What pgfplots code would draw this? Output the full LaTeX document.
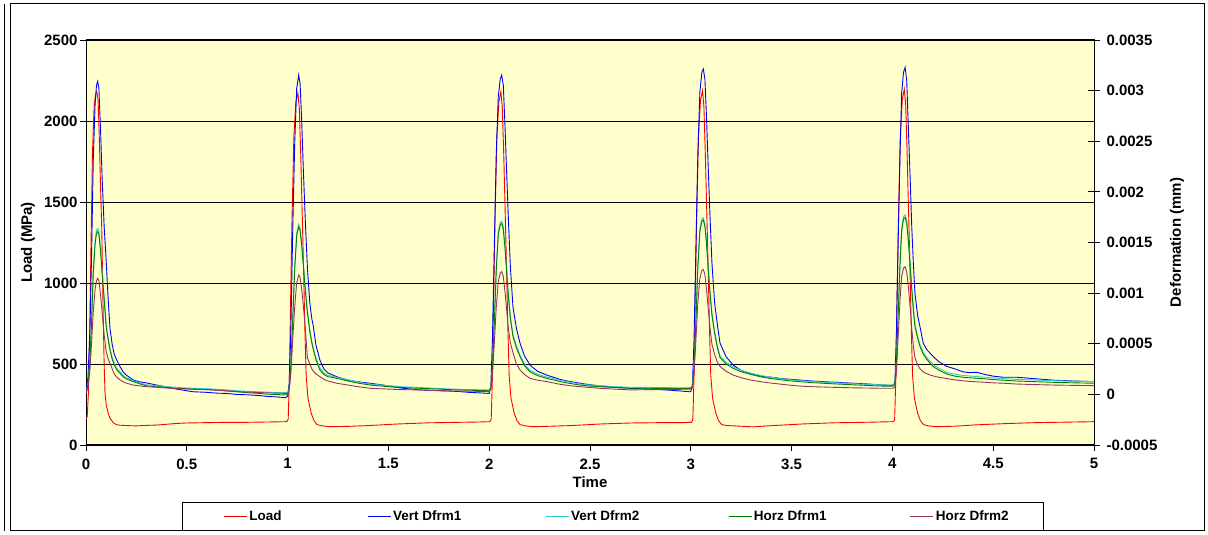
\documentclass[border=0pt]{standalone}
\usepackage{pgfplots}
\pgfplotsset{compat=1.18}
\usepackage{pgfplotstable}
\usepackage{fontspec}
\setmainfont{Liberation Sans}
\definecolor{bgyellow}{RGB}{255,255,204}
\definecolor{vdtwo}{RGB}{51,204,204}
\definecolor{hdone}{RGB}{0,128,0}
\definecolor{hdtwo}{RGB}{153,51,102}
\newcommand{\chartfont}{\fontsize{15}{17}\selectfont\bfseries}
\newcommand{\legfont}{\fontsize{13.5}{16}\selectfont\bfseries}
\pgfplotsset{legend image code/.code={\draw[#1] (0pt,0pt) -- (23pt,0pt);}}

\pgfplotstableread{
t L
0.000 160
0.006 175
0.012 320
0.018 650
0.025 1250
0.032 1800
0.040 2080
0.047 2160
0.053 2181
0.060 2130
0.066 1900
0.072 1600
0.078 1347
0.084 900
0.090 500
0.094 330
0.100 250
0.110 195
0.119 166
0.135 138
0.150 126
0.169 122
0.200 120
0.250 118
0.300 121
0.350 123
0.400 128
0.450 133
0.500 136
0.600 138
0.700 140
0.800 140
0.900 142
0.996 144
1.003 159
1.009 420
1.015 900
1.022 1400
1.031 1900
1.041 2120
1.051 2171
1.058 2080
1.065 1800
1.073 1400
1.079 1100
1.085 750
1.092 430
1.101 290
1.117 196
1.131 150
1.146 126
1.171 118
1.211 113
1.301 115
1.401 120
1.551 130
1.701 137
1.851 140
1.950 142
2.003 144
2.010 159
2.016 420
2.022 900
2.029 1400
2.038 1900
2.048 2120
2.058 2181
2.065 2080
2.072 1800
2.080 1400
2.086 1100
2.092 750
2.099 430
2.108 290
2.124 196
2.138 150
2.153 126
2.178 118
2.218 113
2.308 116
2.408 120
2.558 130
2.708 136
2.858 138
2.950 138
3.003 140
3.010 155
3.016 420
3.022 900
3.029 1400
3.038 1900
3.048 2125
3.058 2187
3.065 2090
3.072 1800
3.080 1400
3.086 1100
3.092 750
3.099 430
3.108 290
3.124 196
3.138 150
3.153 126
3.178 120
3.218 118
3.308 112
3.408 120
3.558 130
3.708 137
3.858 140
4.004 144
4.011 154
4.017 420
4.023 900
4.030 1400
4.039 1900
4.049 2130
4.059 2196
4.066 2100
4.073 1800
4.081 1400
4.087 1100
4.093 750
4.100 430
4.109 290
4.125 196
4.139 150
4.154 126
4.179 118
4.219 113
4.309 116
4.409 124
4.559 132
4.709 138
4.859 141
5.000 144
}\loadtab

\pgfplotstableread{
t v1 v2 h1 h2
0.000 12e-6 15e-6 9e-6 9e-6
0.010 172e-6 100e-6 92e-6 60e-6
0.020 668e-6 364e-6 348e-6 252e-6
0.028 1420e-6 756e-6 732e-6 524e-6
0.036 2316e-6 1220e-6 1196e-6 812e-6
0.045 2860e-6 1513e-6 1484e-6 1036e-6
0.052 3052e-6 1620e-6 1588e-6 1124e-6
0.058 3092e-6 1639e-6 1607e-6 1146e-6
0.064 3020e-6 1609e-6 1580e-6 1124e-6
0.072 2620e-6 1444e-6 1420e-6 988e-6
0.080 2140e-6 1220e-6 1196e-6 812e-6
0.090 1660e-6 956e-6 940e-6 588e-6
0.100 1324e-6 692e-6 668e-6 428e-6
0.110 940e-6 556e-6 540e-6 348e-6
0.119 652e-6 452e-6 438e-6 308e-6
0.130 492e-6 364e-6 348e-6 252e-6
0.140 396e-6 308e-6 292e-6 204e-6
0.152 340e-6 258e-6 244e-6 172e-6
0.169 273e-6 223e-6 207e-6 142e-6
0.185 220e-6 188e-6 172e-6 124e-6
0.200 191e-6 164e-6 153e-6 111e-6
0.234 142e-6 134e-6 126e-6 92e-6
0.265 124e-6 113e-6 105e-6 84e-6
0.300 113e-6 95e-6 84e-6 76e-6
0.350 92e-6 86e-6 76e-6 70e-6
0.400 73e-6 76e-6 68e-6 63e-6
0.450 52e-6 70e-6 60e-6 57e-6
0.500 36e-6 63e-6 55e-6 54e-6
0.530 26e-6 60e-6 52e-6 50e-6
0.600 20e-6 57e-6 47e-6 47e-6
0.650 12e-6 50e-6 41e-6 41e-6
0.700 9e-6 44e-6 33e-6 36e-6
0.750 -1e-6 36e-6 25e-6 28e-6
0.800 -4e-6 30e-6 17e-6 23e-6
0.860 -12e-6 25e-6 9e-6 18e-6
0.900 -20e-6 22e-6 2e-6 15e-6
0.950 -26e-6 18e-6 -2e-6 12e-6
0.990 -33e-6 17e-6 -6e-6 10e-6
1.000 -20e-6 15e-6 -1e-6 9e-6
1.008 108e-6 63e-6 52e-6 44e-6
1.016 620e-6 284e-6 268e-6 204e-6
1.025 1580e-6 732e-6 716e-6 524e-6
1.035 2460e-6 1252e-6 1228e-6 860e-6
1.045 3020e-6 1588e-6 1564e-6 1100e-6
1.055 3154e-6 1679e-6 1655e-6 1178e-6
1.062 3068e-6 1644e-6 1620e-6 1156e-6
1.070 2700e-6 1492e-6 1468e-6 1036e-6
1.078 2220e-6 1295e-6 1276e-6 876e-6
1.088 1708e-6 1039e-6 1020e-6 652e-6
1.098 1260e-6 831e-6 812e-6 364e-6
1.110 908e-6 639e-6 620e-6 300e-6
1.120 748e-6 524e-6 508e-6 252e-6
1.128 668e-6 454e-6 438e-6 228e-6
1.140 492e-6 364e-6 348e-6 204e-6
1.160 340e-6 260e-6 241e-6 175e-6
1.180 252e-6 212e-6 196e-6 148e-6
1.200 212e-6 188e-6 175e-6 132e-6
1.243 175e-6 169e-6 159e-6 110e-6
1.300 140e-6 143e-6 132e-6 92e-6
1.350 124e-6 121e-6 111e-6 76e-6
1.410 110e-6 102e-6 92e-6 60e-6
1.500 84e-6 86e-6 76e-6 52e-6
1.560 63e-6 76e-6 68e-6 47e-6
1.657 44e-6 68e-6 60e-6 44e-6
1.700 41e-6 63e-6 57e-6 41e-6
1.750 36e-6 58e-6 52e-6 38e-6
1.800 33e-6 54e-6 47e-6 34e-6
1.850 28e-6 50e-6 44e-6 33e-6
1.900 20e-6 47e-6 41e-6 31e-6
1.950 15e-6 46e-6 38e-6 30e-6
1.995 10e-6 44e-6 36e-6 28e-6
2.000 10e-6 44e-6 36e-6 28e-6
2.008 76e-6 68e-6 60e-6 52e-6
2.016 540e-6 265e-6 252e-6 188e-6
2.025 1420e-6 700e-6 684e-6 492e-6
2.035 2380e-6 1247e-6 1228e-6 860e-6
2.045 2940e-6 1604e-6 1580e-6 1116e-6
2.055 3116e-6 1700e-6 1676e-6 1199e-6
2.062 3154e-6 1711e-6 1689e-6 1212e-6
2.070 3052e-6 1652e-6 1628e-6 1164e-6
2.078 2668e-6 1471e-6 1452e-6 1020e-6
2.086 2220e-6 1247e-6 1228e-6 844e-6
2.095 1740e-6 991e-6 972e-6 652e-6
2.105 1260e-6 767e-6 748e-6 508e-6
2.118 860e-6 591e-6 572e-6 412e-6
2.135 652e-6 479e-6 460e-6 300e-6
2.153 505e-6 390e-6 372e-6 241e-6
2.175 380e-6 300e-6 284e-6 196e-6
2.202 290e-6 239e-6 223e-6 159e-6
2.240 228e-6 198e-6 185e-6 140e-6
2.285 191e-6 172e-6 159e-6 126e-6
2.350 148e-6 140e-6 127e-6 100e-6
2.400 127e-6 121e-6 108e-6 86e-6
2.450 110e-6 103e-6 92e-6 76e-6
2.500 95e-6 92e-6 82e-6 68e-6
2.550 84e-6 86e-6 76e-6 60e-6
2.600 73e-6 79e-6 70e-6 54e-6
2.700 60e-6 70e-6 60e-6 44e-6
2.800 52e-6 68e-6 60e-6 47e-6
2.900 41e-6 66e-6 58e-6 49e-6
2.950 33e-6 65e-6 58e-6 50e-6
2.995 26e-6 66e-6 60e-6 52e-6
3.000 26e-6 66e-6 60e-6 52e-6
3.008 92e-6 86e-6 79e-6 63e-6
3.016 540e-6 281e-6 268e-6 204e-6
3.025 1420e-6 716e-6 700e-6 524e-6
3.035 2380e-6 1279e-6 1260e-6 908e-6
3.045 2988e-6 1636e-6 1612e-6 1148e-6
3.055 3180e-6 1732e-6 1708e-6 1225e-6
3.062 3214e-6 1743e-6 1722e-6 1234e-6
3.070 3116e-6 1679e-6 1660e-6 1180e-6
3.078 2732e-6 1503e-6 1484e-6 1036e-6
3.086 2268e-6 1279e-6 1260e-6 860e-6
3.095 1772e-6 1023e-6 1004e-6 668e-6
3.105 1292e-6 799e-6 780e-6 492e-6
3.118 908e-6 620e-6 604e-6 396e-6
3.132 684e-6 476e-6 460e-6 316e-6
3.145 505e-6 380e-6 364e-6 276e-6
3.175 372e-6 316e-6 300e-6 228e-6
3.210 290e-6 271e-6 257e-6 191e-6
3.250 236e-6 236e-6 223e-6 164e-6
3.300 204e-6 207e-6 196e-6 140e-6
3.350 180e-6 185e-6 172e-6 124e-6
3.400 169e-6 167e-6 156e-6 111e-6
3.450 156e-6 154e-6 143e-6 100e-6
3.500 148e-6 143e-6 132e-6 89e-6
3.540 142e-6 137e-6 126e-6 82e-6
3.600 132e-6 127e-6 116e-6 76e-6
3.700 121e-6 116e-6 105e-6 70e-6
3.800 111e-6 106e-6 95e-6 65e-6
3.900 100e-6 97e-6 86e-6 62e-6
3.950 92e-6 94e-6 82e-6 60e-6
3.995 89e-6 92e-6 81e-6 60e-6
4.000 89e-6 92e-6 81e-6 60e-6
4.008 100e-6 98e-6 89e-6 63e-6
4.013 142e-6 127e-6 116e-6 84e-6
4.020 620e-6 348e-6 332e-6 220e-6
4.030 1655e-6 879e-6 860e-6 620e-6
4.038 2380e-6 1311e-6 1292e-6 940e-6
4.046 2977e-6 1636e-6 1612e-6 1164e-6
4.055 3180e-6 1756e-6 1732e-6 1247e-6
4.063 3230e-6 1772e-6 1748e-6 1262e-6
4.071 3100e-6 1714e-6 1692e-6 1212e-6
4.079 2644e-6 1535e-6 1516e-6 1068e-6
4.088 2140e-6 1295e-6 1276e-6 860e-6
4.096 1655e-6 1055e-6 1036e-6 652e-6
4.104 1292e-6 847e-6 828e-6 476e-6
4.112 998e-6 687e-6 668e-6 364e-6
4.125 780e-6 575e-6 556e-6 292e-6
4.137 668e-6 489e-6 471e-6 252e-6
4.153 505e-6 415e-6 396e-6 220e-6
4.170 444e-6 367e-6 348e-6 204e-6
4.187 406e-6 324e-6 306e-6 191e-6
4.207 364e-6 287e-6 268e-6 180e-6
4.230 324e-6 258e-6 239e-6 169e-6
4.270 276e-6 217e-6 201e-6 156e-6
4.310 252e-6 198e-6 180e-6 143e-6
4.350 223e-6 188e-6 169e-6 134e-6
4.380 215e-6 182e-6 164e-6 129e-6
4.420 218e-6 175e-6 159e-6 124e-6
4.460 196e-6 169e-6 153e-6 119e-6
4.500 180e-6 162e-6 146e-6 114e-6
4.550 169e-6 156e-6 140e-6 110e-6
4.617 169e-6 148e-6 132e-6 102e-6
4.700 156e-6 142e-6 126e-6 97e-6
4.800 140e-6 135e-6 119e-6 92e-6
4.900 132e-6 130e-6 114e-6 89e-6
5.000 126e-6 126e-6 110e-6 86e-6
}\defotab

\begin{document}
\begin{tikzpicture}[x=1pt,y=1pt]
\useasboundingbox (0,0) rectangle (1208,535);
\fill[white] (0,0) rectangle (1208,535);
\draw[line width=1pt] (10,4) rectangle (1204,531);
\draw[line width=1pt] (4,4) -- (4,531);
\begin{axis}[
  scale only axis, width=1008pt, height=405pt,
  at={(86pt,90pt)}, anchor=south west,
  xmin=0, xmax=5, ymin=0, ymax=2500,
  axis background/.style={fill=bgyellow},
  xtick={0,0.5,1,1.5,2,2.5,3,3.5,4,4.5,5},
  xticklabels={0,0.5,1,1.5,2,2.5,3,3.5,4,4.5,5},
  ytick={0,500,1000,1500,2000,2500},
  yticklabels={0,500,1000,1500,2000,2500},
  xtick pos=bottom, ytick pos=left,
  tick align=outside, major tick length=6pt,
  tick style={black, line width=0.8pt},
  ymajorgrids, grid style={black, line width=0.8pt},
  axis line style={black, line width=1pt},
  /pgf/number format/assume math mode=true,
  tick label style={font=\chartfont},
  xticklabel style={yshift=-4pt},
  yticklabel style={xshift=1pt},
  label style={font=\chartfont},
  xlabel={Time}, ylabel={Load (MPa)},
  xlabel style={at={(axis description cs:0.5,-0.0925)}, anchor=center},
  ylabel style={at={(axis description cs:-0.0575,0.5)}, anchor=center},
]
\addplot[red, line width=0.9pt] table[x=t,y=L]{\loadtab};
\end{axis}
\begin{axis}[
  scale only axis, width=1008pt, height=405pt,
  at={(86pt,90pt)}, anchor=south west,
  xmin=0, xmax=5, ymin=-0.0005, ymax=0.0035,
  axis x line=none, axis y line*=right,
  ytick={-0.0005,0,0.0005,0.001,0.0015,0.002,0.0025,0.003,0.0035},
  yticklabels={-0.0005,0,0.0005,0.001,0.0015,0.002,0.0025,0.003,0.0035},
  scaled y ticks=false,
  tick align=center, major tick length=12pt,
  tick style={black, line width=0.8pt},
  axis line style={black, line width=1pt},
  /pgf/number format/assume math mode=true,
  tick label style={font=\chartfont},
  yticklabel style={xshift=3pt},
  label style={font=\chartfont},
  ylabel={Deformation (mm)},
  ylabel style={at={(axis description cs:1.0823,0.5)}, anchor=center},
  legend columns=5,
  legend style={at={(axis description cs:0.0952,-0.1407)}, anchor=north west,
    draw=black, line width=0.8pt, fill=white, inner xsep=41pt, inner ysep=6.3pt,
    font=\legfont},
]
\addlegendimage{red, line width=0.9pt}
\addlegendentry{\makebox[116pt][l]{Load}}
\addplot[blue, line width=0.9pt] table[x=t,y=v1]{\defotab};
\addlegendentry{\makebox[150pt][l]{Vert Dfrm1}}
\addplot[vdtwo, line width=0.9pt] table[x=t,y=v2]{\defotab};
\addlegendentry{\makebox[155pt][l]{Vert Dfrm2}}
\addplot[hdone, line width=0.9pt] table[x=t,y=h1]{\defotab};
\addlegendentry{\makebox[154pt][l]{Horz Dfrm1}}
\addplot[hdtwo, line width=0.9pt] table[x=t,y=h2]{\defotab};
\addlegendentry{\makebox[65pt][l]{Horz Dfrm2}}
\end{axis}
\end{tikzpicture}
\end{document}
